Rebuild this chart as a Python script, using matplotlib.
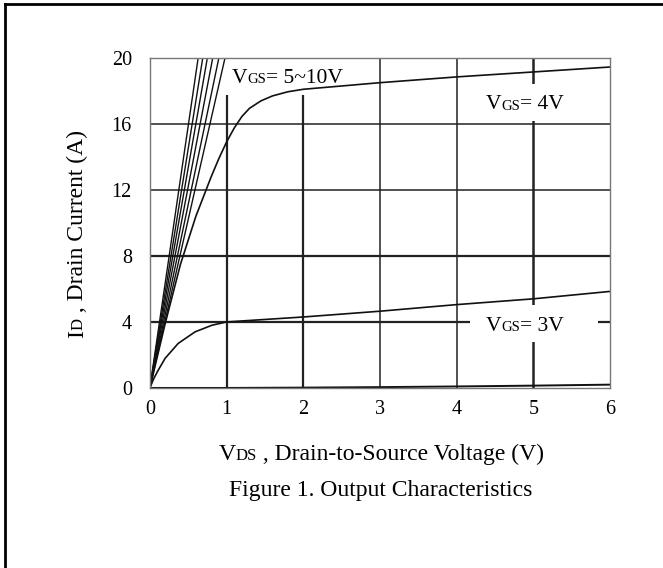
import matplotlib
matplotlib.use("Agg")
import matplotlib.pyplot as plt
from matplotlib.patches import Rectangle
from matplotlib.lines import Line2D

plt.rcParams['font.family'] = ['Liberation Serif', 'DejaVu Serif']

# --- data ---
# VGS = 5~10V: nearly straight lines from the origin, VDS where they hit ID = 20 A
vds_5to10_end = [0.98, 0.90, 0.82, 0.75, 0.69, 0.63]
id_5to10 = [0, 20]

vds_4v = [0, 0.2, 0.4, 0.6, 0.8, 0.9, 1.0, 1.1, 1.2, 1.3, 1.45, 1.6, 1.8, 2.0, 3.0, 4.0, 5.0, 6.0]
id_4v = [0, 3.9, 7.5, 10.4, 12.8, 13.9, 14.9, 15.75, 16.45, 16.95, 17.4, 17.7, 17.95, 18.1,
         18.5, 18.85, 19.15, 19.45]

vds_3v = [0, 0.05, 0.1, 0.2, 0.37, 0.59, 0.81, 1.0, 2.0, 3.0, 4.0, 5.0, 6.0]
id_3v = [0, 0.55, 1.0, 1.8, 2.7, 3.4, 3.8, 4.0, 4.3, 4.65, 5.05, 5.4, 5.85]

vds_low = [0, 1, 2, 3, 4, 5, 6]
id_low = [0, 0.0, 0.02, 0.05, 0.09, 0.14, 0.2]

xticks = [0, 1, 2, 3, 4, 5, 6]
yticks = [0, 4, 8, 12, 16, 20]

LBL, LBL_S = 17, 12         # axis labels
CRV, CRV_S = 15.5, 10.5     # curve labels


def small_caps(ax, x, y, parts, transform, rotation=0, zorder=5):
    # parts: list of (text, size); glued one after another on a common baseline
    first = ax.text(x, y, parts[0][0], fontsize=parts[0][1], transform=transform,
                    rotation=rotation, ha='left' if rotation == 0 else 'right',
                    va='bottom', zorder=zorder)
    prev, prev_size = first, parts[0][1]
    for txt, size in parts[1:]:
        d = 0.217 * (prev_size - size)
        if rotation == 0:
            t = ax.annotate(txt, xy=(1, 0), xycoords=prev, xytext=(0, d),
                            textcoords='offset points', fontsize=size,
                            ha='left', va='bottom', zorder=zorder)
        else:
            t = ax.annotate(txt, xy=(1, 1), xycoords=prev, xytext=(-d, 0),
                            textcoords='offset points', fontsize=size,
                            rotation=90, ha='right', va='bottom', zorder=zorder)
        prev, prev_size = t, size
    return first


fig = plt.figure(figsize=(6.63, 5.68), dpi=100)
ax = fig.add_axes([0.226, 0.317, 0.694, 0.581])

ax.set_xlim(0, 6)
ax.set_ylim(0, 20)
ax.set_xticks(xticks)
ax.set_yticks(yticks)
ax.tick_params(length=0, labelsize=14.5)
ax.tick_params(axis='x', pad=9)
ax.tick_params(axis='y', pad=13)
for s in ax.spines.values():
    s.set_color('#777777')
    s.set_linewidth(1.0)

# grid
for v, lw in zip([1, 2, 3, 4, 5], [1.6, 1.6, 1.1, 1.1, 1.8]):
    ax.axvline(v, color='#222222', lw=lw, zorder=0.5)
for h, lw in zip([4, 8, 12, 16], [1.6, 1.6, 1.1, 1.1]):
    ax.axhline(h, color='#222222', lw=lw, zorder=0.5)

# white backgrounds behind the labels (break the grid lines)
for (x0, y0, x1, y1) in [(0.97, 17.75, 2.75, 20.0), (4.29, 16.15, 5.56, 18.4),
                         (4.18, 2.8, 5.84, 5.0)]:
    ax.add_patch(Rectangle((x0, y0), x1 - x0, y1 - y0, facecolor='white',
                           edgecolor='none', zorder=1))

# curves
for xe in vds_5to10_end:
    ax.plot([0, xe], id_5to10, color='#111111', lw=1.0, zorder=2)
ax.plot(vds_4v, id_4v, color='#111111', lw=1.2, zorder=2)
ax.plot(vds_3v, id_3v, color='#111111', lw=1.2, zorder=2)
ax.plot(vds_low, id_low, color='#111111', lw=1.4, zorder=2)

# curve labels
small_caps(ax, 1.07, 18.2, [('V', CRV), ('GS', CRV_S), ('= 5~10V', CRV)], ax.transData)
small_caps(ax, 4.38, 16.6, [('V', CRV), ('GS', CRV_S), ('= 4V', CRV)], ax.transData)
small_caps(ax, 4.38, 3.15, [('V', CRV), ('GS', CRV_S), ('= 3V', CRV)], ax.transData)

# axis labels
small_caps(ax, 0.133, 0.405, [('I', LBL), ('D', LBL_S), (' , Drain Current (A)', LBL)],
           fig.transFigure, rotation=90)
small_caps(ax, 0.33, 0.181, [('V', LBL), ('DS', LBL_S),
                             (' , Drain-to-Source Voltage (V)', LBL)], fig.transFigure)
fig.text(0.574, 0.137, 'Figure 1. Output Characteristics', fontsize=LBL,
         ha='center', va='center')

# page frame (top and left edges)
fig.add_artist(Line2D([5 / 663, 5 / 663], [0, 1 - 4 / 568], color='black', lw=2,
                      transform=fig.transFigure))
fig.add_artist(Line2D([5 / 663, 1], [1 - 4 / 568, 1 - 4 / 568], color='black', lw=2,
                      transform=fig.transFigure))

fig.savefig('out.png', dpi=100)
